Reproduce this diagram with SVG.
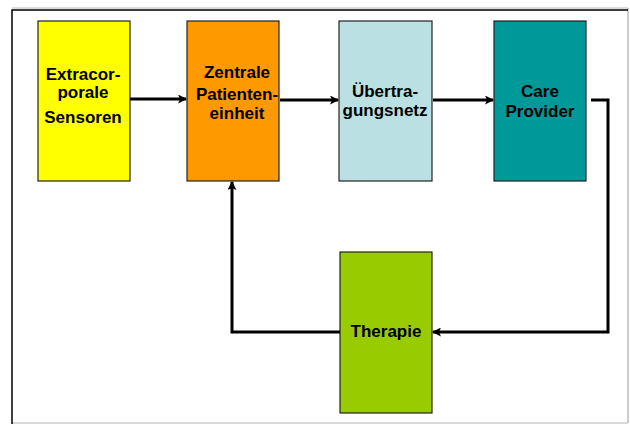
<svg xmlns="http://www.w3.org/2000/svg" width="630" height="424" viewBox="0 0 630 424">
<style>
.box{stroke:#222;stroke-width:1.2}
.t{font-family:"Liberation Sans",Arial,sans-serif;font-weight:bold;font-size:17px;fill:#000;text-anchor:middle}
.c{fill:none;stroke:#000;stroke-width:3;stroke-linejoin:miter}
</style>
<defs>
<marker id="ah" markerWidth="9" markerHeight="9" refX="8" refY="4.5" orient="auto" markerUnits="userSpaceOnUse">
<path d="M0,0 L9,4.5 L0,9 L2,4.5 Z" fill="#000"/>
</marker>
</defs>
<rect x="0" y="0" width="630" height="424" fill="#fff"/>
<g id="frame">
<line x1="12" y1="8" x2="628" y2="8" stroke="#bbb" stroke-width="1"/>
<line x1="628" y1="8" x2="628" y2="423" stroke="#bbb" stroke-width="1.5"/>
<line x1="12" y1="423" x2="628" y2="423" stroke="#ccc" stroke-width="1.5"/>
<path d="M12,424 L12,10 L628,10" fill="none" stroke="#000" stroke-width="1.5"/>
</g>
<g id="sensoren">
<rect class="box" x="38" y="21" width="92" height="160" fill="#ffff00"/>
<text class="t" x="83" y="80">Extracor-</text>
<text class="t" x="83" y="98">porale</text>
<text class="t" x="83" y="123">Sensoren</text>
</g>
<g id="patienteneinheit">
<rect class="box" x="187" y="21" width="92" height="160" fill="#ff9900"/>
<text class="t" x="237" y="78">Zentrale</text>
<text class="t" x="237" y="100">Patienten-</text>
<text class="t" x="237" y="119">einheit</text>
</g>
<g id="uebertragungsnetz">
<rect class="box" x="339" y="21" width="93" height="160" fill="#bbe0e3"/>
<text class="t" x="385" y="97">Übertra-</text>
<text class="t" x="385" y="116">gungsnetz</text>
</g>
<g id="careprovider">
<rect class="box" x="494" y="21" width="92" height="160" fill="#009999"/>
<text class="t" x="540" y="97">Care</text>
<text class="t" x="540" y="117">Provider</text>
</g>
<g id="therapie">
<rect class="box" x="340" y="252" width="92" height="161" fill="#99cc00"/>
<text class="t" x="386" y="337">Therapie</text>
</g>
<g id="connectors">
<path class="c" d="M130,99 L186,99" marker-end="url(#ah)"/>
<path class="c" d="M280,100 L338,100" marker-end="url(#ah)"/>
<path class="c" d="M433,100 L493,100" marker-end="url(#ah)"/>
<path class="c" d="M591,100 L608,100 L608,332 L433,332" marker-end="url(#ah)"/>
<path class="c" d="M340,332 L232,332 L232,182" marker-end="url(#ah)"/>
</g>
</svg>
